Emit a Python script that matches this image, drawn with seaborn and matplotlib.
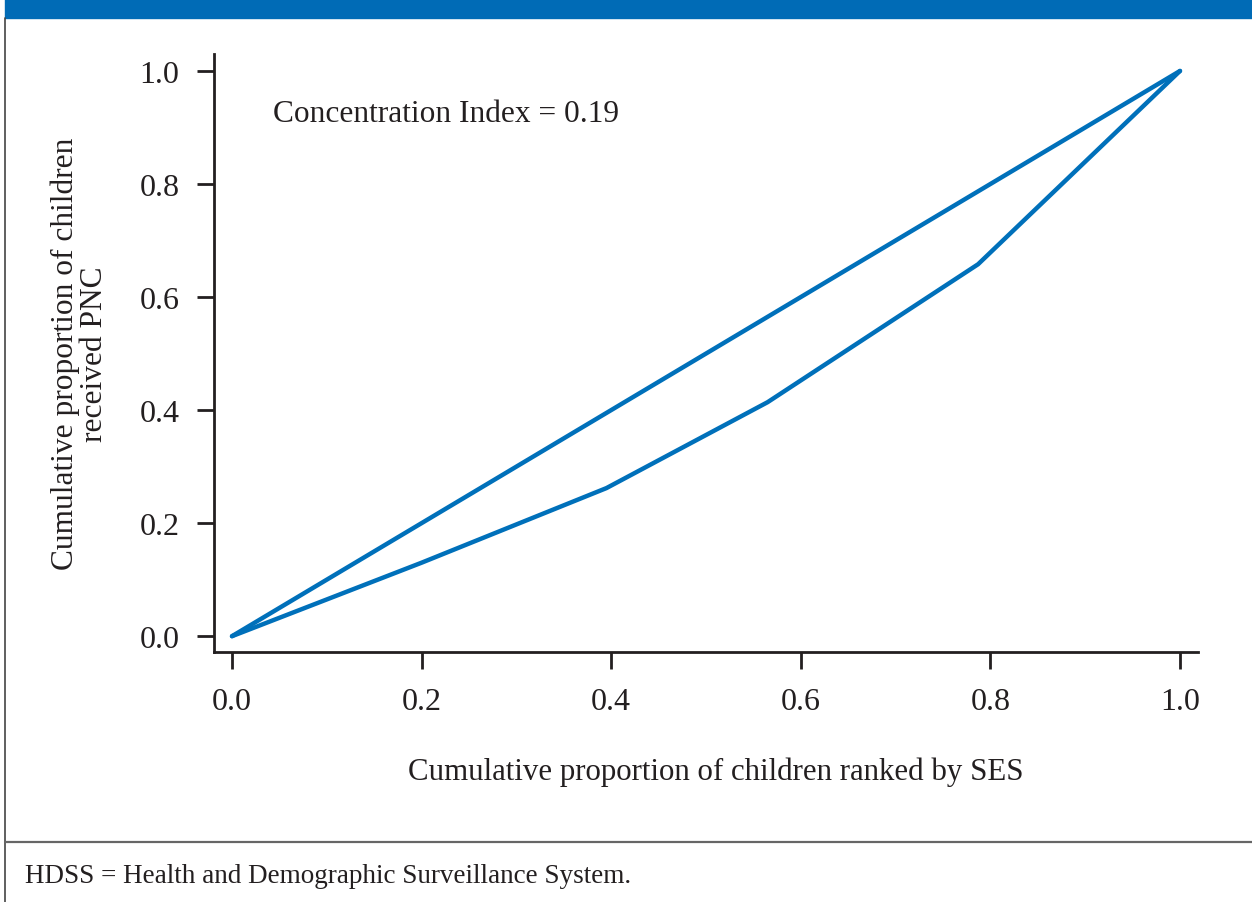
import matplotlib
matplotlib.use("Agg")
import matplotlib.pyplot as plt
import seaborn as sns
import pandas as pd
from matplotlib.patches import Rectangle
from matplotlib.lines import Line2D

# Data
cum_children_ses = [0.0, 0.2, 0.395, 0.565, 0.787, 1.0]
cum_pnc = [0.0, 0.13, 0.262, 0.414, 0.658, 1.0]
equality_x = [0.0, 1.0]
equality_y = [0.0, 1.0]
ticks = [0.0, 0.2, 0.4, 0.6, 0.8, 1.0]
tick_labels = ["0.0", "0.2", "0.4", "0.6", "0.8", "1.0"]
annotation = "Concentration Index = 0.19"
xlabel = "Cumulative proportion of children ranked by SES"
ylabel = "Cumulative proportion of children\nreceived PNC"
footnote = "HDSS = Health and Demographic Surveillance System."

sns.set_style("ticks")
plt.rcParams["font.family"] = ["Liberation Serif", "DejaVu Serif"]

blue = "#0070BA"
dark = "#231f20"
fig = plt.figure(figsize=(12.52, 9.03), dpi=100)
ax = fig.add_axes([214/1252, 1 - 653/903, (1198-214)/1252, (653-55)/903])

curve = pd.DataFrame({"x": cum_children_ses, "y": cum_pnc})
eq = pd.DataFrame({"x": equality_x, "y": equality_y})
sns.lineplot(data=eq, x="x", y="y", ax=ax, color=blue, lw=3.2, sort=False,
             solid_capstyle="round", solid_joinstyle="round")
sns.lineplot(data=curve, x="x", y="y", ax=ax, color=blue, lw=3.2, sort=False,
             solid_capstyle="round", solid_joinstyle="round")

ax.set_xlim(-0.019, 1.019)
ax.set_ylim(-0.028, 1.03)
ax.set_xticks(ticks)
ax.set_xticklabels(tick_labels)
ax.set_yticks(ticks)
ax.set_yticklabels(tick_labels)
ax.tick_params(axis="both", labelsize=23, length=12, width=2, color=dark,
               labelcolor=dark, pad=13)
for s in ["top", "right"]:
    ax.spines[s].set_visible(False)
for s in ["left", "bottom"]:
    ax.spines[s].set_linewidth(2)
    ax.spines[s].set_color(dark)

ax.set_xlabel(xlabel, fontsize=22.2, color=dark)
ax.xaxis.set_label_coords((716 - 214) / 984, -0.175)
ax.set_ylabel(ylabel, fontsize=22.6, color=dark, labelpad=22, linespacing=1.0)
ax.text(0.043, 0.925, annotation, fontsize=22.6, color=dark,
        transform=ax.transData, va="center", ha="left")

# Frame elements
fig.patches.append(Rectangle((5/1252, 1 - 18.5/903), 1, 18.5/903,
                             transform=fig.transFigure, color="#006BB6", zorder=0))
fig.lines.append(Line2D([5/1252, 5/1252], [0, 1 - 18.5/903], transform=fig.transFigure,
                        color="#444444", lw=1.2))
fig.lines.append(Line2D([5/1252, 1], [1 - 843/903, 1 - 843/903], transform=fig.transFigure,
                        color="#666666", lw=1.6))
fig.text(25/1252, 1 - 877/903, footnote, fontsize=19.5, color=dark, va="center", ha="left")

fig.savefig("out.png", dpi=100)
